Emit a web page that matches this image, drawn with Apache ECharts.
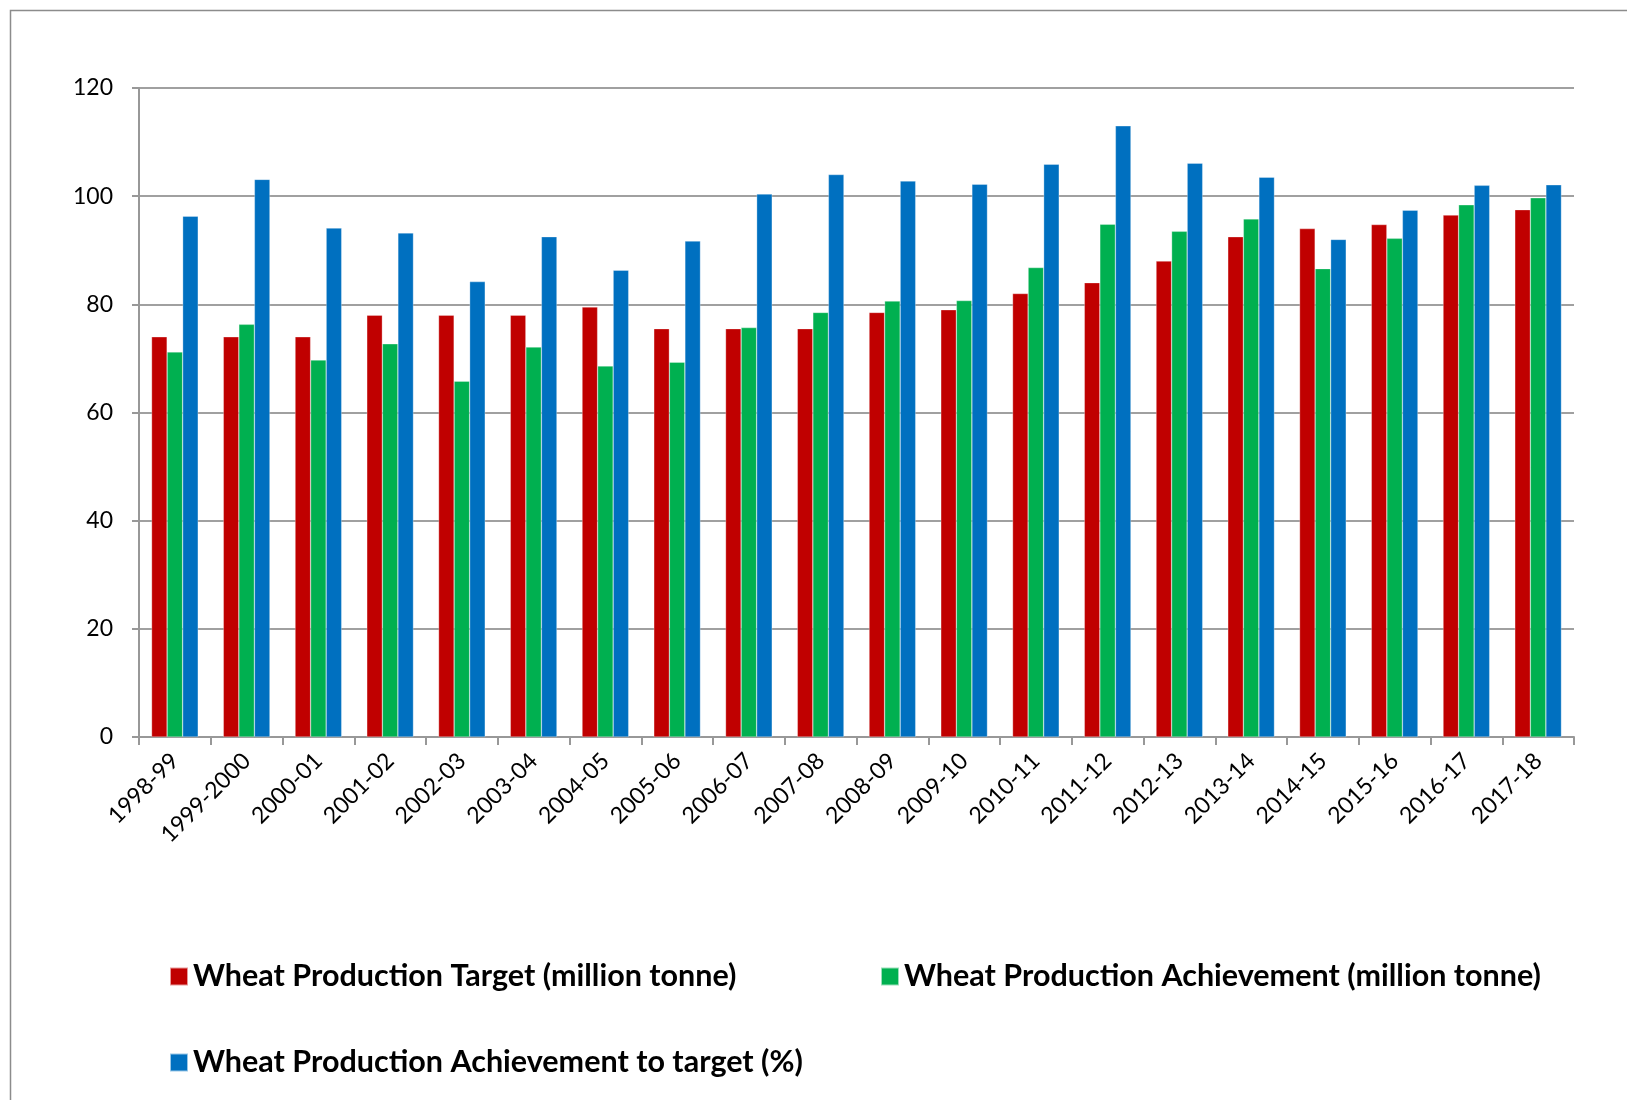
<!DOCTYPE html>
<html>
<head>
<meta charset="utf-8">
<script src="https://cdn.jsdelivr.net/npm/echarts@6/dist/echarts.min.js"></script>
<style>
html,body{margin:0;padding:0;background:#fff;}
#chart{width:1627px;height:1100px;}
</style>
</head>
<body>
<div id="chart"></div>
<script>
const categories = ["1998-99","1999-2000","2000-01","2001-02","2002-03","2003-04","2004-05","2005-06","2006-07","2007-08","2008-09","2009-10","2010-11","2011-12","2012-13","2013-14","2014-15","2015-16","2016-17","2017-18"];
const targetValues = [74,74,74,78,78,78,79.5,75.5,75.5,75.5,78.5,79,82,84,88,92.5,94,94.75,96.5,97.5];
const achievementValues = [71.2,76.3,69.7,72.7,65.8,72.1,68.6,69.3,75.7,78.5,80.6,80.7,86.8,94.8,93.5,95.8,86.6,92.2,98.4,99.7];
const percentValues = [96.3,103.1,94.1,93.2,84.2,92.5,86.3,91.7,100.4,104,102.8,102.2,105.9,113,106.1,103.5,92,97.4,102,102.1];
const seriesNames = ["Wheat Production Target (million tonne)","Wheat Production Achievement (million tonne)","Wheat Production Achievement to target (%)"];
const colors = ["#C00000","#00B050","#0070C0"];

const chart = echarts.init(document.getElementById('chart'), null, {renderer:'canvas'});
const legendText = {fontFamily:'Lato', fontWeight:'bold', fontSize:30.5, color:'#000'};
const mkLegend = (name, left, top) => ({
  data:[name], left:left, top:top, icon:'rect', itemWidth:18, itemHeight:18, itemGap:8,
  textStyle:legendText, selectedMode:false, padding:0
});
const mkSeries = (i, data) => ({
  name: seriesNames[i], type:'bar', data:data, barGap:'0%', barCategoryGap:'35%',
  itemStyle:{color:colors[i], borderColor:'rgba(255,255,255,0.6)', borderWidth:0.5}
});
chart.setOption({
  backgroundColor:'#fff',
  animation:false,
  graphic:[{type:'rect', shape:{x:10.5,y:10.5,width:1700,height:1200}, style:{fill:'none', stroke:'#8c8c8c', lineWidth:1.5}, silent:true}],
  grid:{left:139, right:53, top:88, bottom:363, containLabel:false},
  legend:[
    mkLegend(seriesNames[0], 169, 961),
    mkLegend(seriesNames[1], 880, 961),
    mkLegend(seriesNames[2], 169, 1047)
  ],
  xAxis:{
    type:'category', data:categories,
    axisLine:{lineStyle:{color:'#989898', width:2}},
    axisTick:{show:true, length:8, lineStyle:{color:'#989898', width:2}},
    axisLabel:{rotate:45, fontFamily:'Lato', fontSize:23, color:'#000', margin:20, interval:0}
  },
  yAxis:{
    type:'value', min:0, max:120, interval:20,
    axisLine:{show:true, lineStyle:{color:'#989898', width:2}},
    axisTick:{show:true, length:7, lineStyle:{color:'#989898', width:2}},
    splitLine:{lineStyle:{color:'#a0a0a0', width:2}},
    axisLabel:{fontFamily:'Lato', fontSize:23, color:'#000', margin:26}
  },
  series:[mkSeries(0,targetValues), mkSeries(1,achievementValues), mkSeries(2,percentValues)]
});
</script>
</body>
</html>
